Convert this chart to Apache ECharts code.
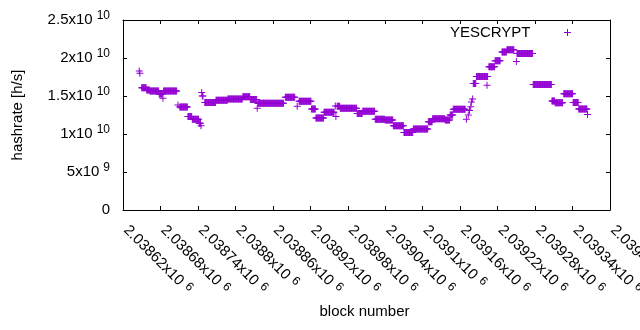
<!DOCTYPE html>
<html><head><meta charset="utf-8">
<script src="https://cdn.jsdelivr.net/npm/echarts@6/dist/echarts.min.js"></script>
<style>html,body{margin:0;padding:0;background:#fff}#c{width:640px;height:330px}</style>
</head><body><div id="c"></div>
<script>
// Runs of blocks with (nearly) constant estimated hashrate
const runStart = [2038646,2038647,2038650,2038658,2038663,2038678,2038684,2038685,2038708,2038711,2038724,2038731,2038742,2038745,2038746,2038747,2038751,2038769,2038788,2038812,2038824,2038835,2038836,2038880,2038899,2038902,2038922,2038929,2038942,2038960,2038961,2038963,2038968,2038995,2039004,2039024,2039040,2039053,2039070,2039085,2039109,2039116,2039136,2039144,2039149,2039170,2039173,2039175,2039177,2039178,2039180,2039181,2039186,2039203,2039206,2039216,2039227,2039235,2039250,2039251,2039277,2039307,2039312,2039326,2039341,2039350,2039364];
const runEnd   = [2038646,2038647,2038657,2038662,2038677,2038683,2038684,2038706,2038708,2038723,2038730,2038741,2038744,2038745,2038746,2038748,2038768,2038787,2038811,2038823,2038834,2038835,2038877,2038895,2038899,2038921,2038928,2038941,2038958,2038960,2038961,2038967,2038994,2039003,2039023,2039039,2039052,2039069,2039084,2039108,2039115,2039135,2039143,2039148,2039168,2039170,2039173,2039175,2039177,2039178,2039180,2039185,2039204,2039203,2039215,2039224,2039234,2039246,2039250,2039276,2039306,2039311,2039324,2039340,2039349,2039363,2039364];
const hashrateE10 = [1.83,1.80,1.61,1.58,1.565,1.525,1.47,1.565,1.38,1.355,1.23,1.195,1.14,1.11,1.545,1.50,1.415,1.445,1.46,1.49,1.455,1.34,1.405,1.485,1.365,1.43,1.33,1.21,1.285,1.37,1.23,1.365,1.34,1.27,1.30,1.195,1.185,1.11,1.02,1.065,1.16,1.20,1.185,1.25,1.325,1.195,1.25,1.31,1.36,1.42,1.46,1.665,1.755,1.64,1.885,1.965,2.08,2.11,1.955,2.06,1.65,1.435,1.41,1.53,1.415,1.33,1.255];
const seriesName = 'YESCRYPT';
const xMin = 2038620, xMax = 2039400, xStep = 60;
const yMin = 0, yMax = 2.5e10, yStep = 5e9;

const points = [];
for (let i = 0; i < runStart.length; i++) {
  for (let b = runStart[i]; b <= runEnd[i]; b++) points.push([b, hashrateE10[i] * 1e10]);
}

const FONT = 'Liberation Sans';
const richY = {
  n: { fontFamily: FONT, fontSize: 15, color: '#000' },
  s: { fontFamily: FONT, fontSize: 12, color: '#000', padding: [0, 0, 9, 4] }
};
const richX = {
  n: { fontFamily: FONT, fontSize: 15, color: '#000' },
  s: { fontFamily: FONT, fontSize: 12, color: '#000', padding: [0, 0, 6, 5] }
};
function sci(v) {
  if (v === 0) return '{n|0}';
  const e = Math.floor(Math.log10(Math.abs(v)) + 1e-9);
  const m = parseFloat((v / Math.pow(10, e)).toPrecision(6));
  return '{n|' + m + 'x10}{s|' + e + '}';
}
const plus = 'path://M0,3L7,3L7,4L0,4ZM3,0L4,0L4,7L3,7Z';
const lineStyle = { color: '#000', width: 1 };
const chart = echarts.init(document.getElementById('c'), null, { renderer: 'canvas' });
chart.setOption({
  animation: false,
  backgroundColor: '#fff',
  grid: { left: 123, right: 30, top: 20, bottom: 120, containLabel: false, outerBoundsMode: 'none' },
  legend: {
    right: 64, top: 20, align: 'right', itemWidth: 64, itemHeight: 7, itemGap: 0,
    textStyle: { fontFamily: FONT, fontSize: 15, color: '#000' },
    data: [{ name: seriesName, icon: plus }]
  },
  xAxis: [{
    type: 'value', min: xMin, max: xMax, interval: xStep, position: 'bottom',
    name: 'block number', nameLocation: 'middle', nameGap: 94,
    nameTextStyle: { fontFamily: FONT, fontSize: 15, color: '#000', padding: [0, 4, 0, 0] },
    axisLine: { show: true, onZero: false, lineStyle },
    axisTick: { show: true, inside: true, length: 4, lineStyle },
    splitLine: { show: false },
    axisLabel: { rotate: -45, margin: 15, padding: [0, 0, 0, 4], formatter: v => sci(v), rich: richX, showMaxLabel: true, showMinLabel: true, hideOverlap: false }
  }, {
    type: 'value', min: xMin, max: xMax, interval: xStep, position: 'top',
    axisLine: { show: true, onZero: false, lineStyle },
    axisTick: { show: true, inside: true, length: 4, lineStyle },
    splitLine: { show: false }, axisLabel: { show: false }
  }],
  yAxis: [{
    type: 'value', min: yMin, max: yMax, interval: yStep, position: 'left',
    name: 'hashrate [h/s]', nameLocation: 'middle', nameGap: 98, nameRotate: 90,
    nameTextStyle: { fontFamily: FONT, fontSize: 15, color: '#000' },
    axisLine: { show: true, onZero: false, lineStyle },
    axisTick: { show: true, inside: true, length: 4, lineStyle },
    splitLine: { show: false },
    axisLabel: { margin: 13, formatter: v => sci(v), rich: richY }
  }, {
    type: 'value', min: yMin, max: yMax, interval: yStep, position: 'right',
    axisLine: { show: true, onZero: false, lineStyle },
    axisTick: { show: true, inside: true, length: 4, lineStyle },
    splitLine: { show: false }, axisLabel: { show: false }
  }],
  series: [{
    name: seriesName, type: 'scatter', xAxisIndex: 0, yAxisIndex: 0,
    symbol: plus, symbolSize: 7, itemStyle: { color: '#9400D3', opacity: 1 },
    data: points, large: false
  }]
});
</script></body></html>
